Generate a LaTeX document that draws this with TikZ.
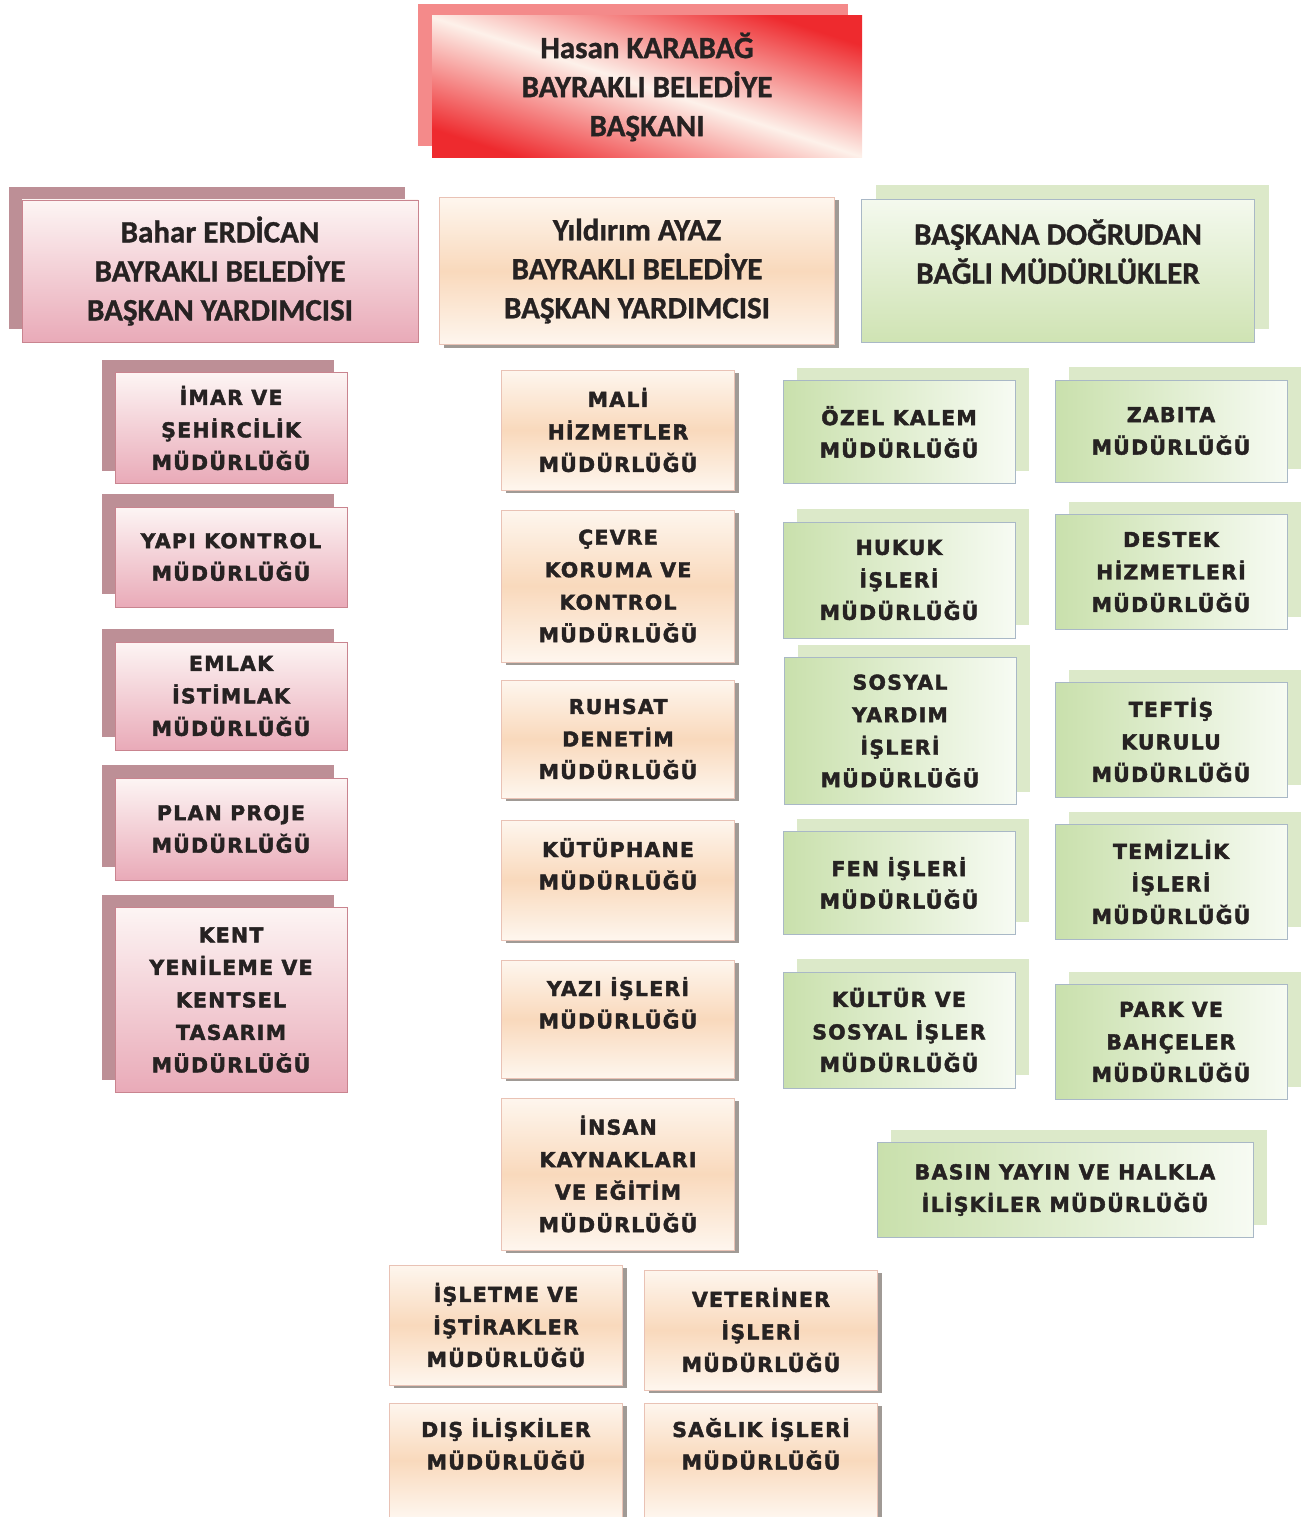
\documentclass[tikz,border=0pt]{standalone}
\usepackage{fontspec}
\setmainfont{Carlito}
\newfontfamily\headfont[BoldFeatures={FakeBold=1}]{Carlito}
\newfontfamily\unitfont[LetterSpace=6,BoldFeatures={FakeBold=2}]{DejaVu Sans}
\usetikzlibrary{shadows}
\definecolor{textgray}{HTML}{262222}
\definecolor{redmain}{HTML}{EE2A2E}
\definecolor{redlight}{HTML}{FDF1EA}
\definecolor{redback}{HTML}{F48A8A}
\definecolor{pinktop}{HTML}{FDF5F4}
\definecolor{pinkbot}{HTML}{E9AAB8}
\definecolor{pinkback}{HTML}{BD8F96}
\definecolor{pinkedge}{HTML}{C9848F}
\definecolor{peachtop}{HTML}{FEF6EE}
\definecolor{peachmid}{HTML}{F9D9BC}
\definecolor{peachedge}{HTML}{E9C2B5}
\definecolor{shadowgray}{HTML}{A09A95}
\definecolor{greentop}{HTML}{F4F9EE}
\definecolor{greenbot}{HTML}{CFE3B3}
\definecolor{greenleft}{HTML}{C9E0AC}
\definecolor{greenlight}{HTML}{F7FBF3}
\definecolor{greenback}{HTML}{DCE9C9}
\definecolor{greenedge}{HTML}{A9B8C6}
\tikzset{
  box/.style={rectangle, inner sep=0pt, align=center, text=textgray},
  head/.style={box, font=\headfont\fontsize{31}{39}\selectfont\bfseries},
  unit/.style={box, font=\unitfont\fontsize{20.5}{32.5}\selectfont\bfseries},
  redbox/.style={head, top color=redmain, bottom color=redmain, middle color=redlight, shading angle=-18,
    general shadow={shadow xshift=-14pt, shadow yshift=12pt, fill=redback}},
  pinkfill/.style={top color=pinktop, bottom color=pinkbot, draw=pinkedge, line width=0.8pt,
    general shadow={shadow xshift=-13pt, shadow yshift=13pt, fill=pinkback}},
  peachfill/.style={top color=peachtop, bottom color=peachtop, middle color=peachmid, draw=peachedge, line width=0.8pt,
    general shadow={shadow xshift=4pt, shadow yshift=-3pt, fill=shadowgray}},
  greenfill/.style={left color=greenleft, right color=greenlight, draw=greenedge, line width=1pt,
    general shadow={shadow xshift=14pt, shadow yshift=13pt, fill=greenback}},
  pinkhead/.style={head, pinkfill},
  peachhead/.style={head, peachfill},
  greenhead/.style={head, top color=greentop, bottom color=greenbot, draw=greenedge, line width=0.8pt,
    general shadow={shadow xshift=14pt, shadow yshift=14pt, fill=greenback}},
  pinkunit/.style={unit, pinkfill, minimum width=232pt},
  peachunit/.style={unit, peachfill, minimum width=233pt},
  greenunit/.style={unit, greenfill, minimum width=232pt}
}
\begin{document}
\begin{tikzpicture}[x=1pt, y=-1pt]
  \useasboundingbox (0,0) rectangle (1309,1517);
  \node[redbox, minimum width=430pt, minimum height=142pt] (baskan) at (647,87) {Hasan KARABAĞ\\BAYRAKLI BELEDİYE\\BAŞKANI};
  \node[pinkhead, minimum width=396pt, minimum height=142pt] (erdican) at (220,271) {Bahar ERDİCAN\\BAYRAKLI BELEDİYE\\BAŞKAN YARDIMCISI};
  \node[peachhead, minimum width=395pt, minimum height=147pt] (ayaz) at (637,271) {Yıldırım AYAZ\\BAYRAKLI BELEDİYE\\BAŞKAN YARDIMCISI};
  \node[greenhead, minimum width=393pt, minimum height=143pt] (dogrudan) at (1058,271) {BAŞKANA DOĞRUDAN\\BAĞLI MÜDÜRLÜKLER\\\mbox{}};

  \node[pinkunit, minimum height=111pt] (imar) at (231,428) {İMAR VE\\ŞEHİRCİLİK\\MÜDÜRLÜĞÜ};
  \node[pinkunit, minimum height=100pt] (yapi) at (231,557) {YAPI KONTROL\\MÜDÜRLÜĞÜ};
  \node[pinkunit, minimum height=108pt] (emlak) at (231,696) {EMLAK\\İSTİMLAK\\MÜDÜRLÜĞÜ};
  \node[pinkunit, minimum height=102pt] (plan) at (231,829) {PLAN PROJE\\MÜDÜRLÜĞÜ};
  \node[pinkunit, minimum height=185pt] (kent) at (231,1000) {KENT\\YENİLEME VE\\KENTSEL\\TASARIM\\MÜDÜRLÜĞÜ};

  \node[peachunit, minimum height=120pt] (mali) at (618,430) {MALİ\\HİZMETLER\\MÜDÜRLÜĞÜ};
  \node[peachunit, minimum height=152pt] (cevre) at (618,586) {ÇEVRE\\KORUMA VE\\KONTROL\\MÜDÜRLÜĞÜ};
  \node[peachunit, minimum height=118pt] (ruhsat) at (618,739) {RUHSAT\\DENETİM\\MÜDÜRLÜĞÜ};
  \node[peachunit, minimum height=120pt] (kutuphane) at (618,880) {KÜTÜPHANE\\MÜDÜRLÜĞÜ\\\mbox{}};
  \node[peachunit, minimum height=118pt] (yazi) at (618,1019) {YAZI İŞLERİ\\MÜDÜRLÜĞÜ\\\mbox{}};
  \node[peachunit, minimum height=152pt] (insan) at (618,1174) {İNSAN\\KAYNAKLARI\\VE EĞİTİM\\MÜDÜRLÜĞÜ};
  \node[peachunit, minimum height=120pt] (isletme) at (506,1325) {İŞLETME VE\\İŞTİRAKLER\\MÜDÜRLÜĞÜ};
  \node[peachunit, minimum height=120pt] (veteriner) at (761,1330) {VETERİNER\\İŞLERİ\\MÜDÜRLÜĞÜ};
  \node[peachunit, minimum height=114pt] (dis) at (506,1460) {DIŞ İLİŞKİLER\\MÜDÜRLÜĞÜ\\\mbox{}};
  \node[peachunit, minimum height=114pt] (saglik) at (761,1460) {SAĞLIK İŞLERİ\\MÜDÜRLÜĞÜ\\\mbox{}};

  \node[greenunit, minimum height=103pt] (ozel) at (899,432) {ÖZEL KALEM\\MÜDÜRLÜĞÜ};
  \node[greenunit, minimum height=102pt] (zabita) at (1171,431) {ZABITA\\MÜDÜRLÜĞÜ};
  \node[greenunit, minimum height=116pt] (hukuk) at (899,580) {HUKUK\\İŞLERİ\\MÜDÜRLÜĞÜ};
  \node[greenunit, minimum height=115pt] (destek) at (1171,572) {DESTEK\\HİZMETLERİ\\MÜDÜRLÜĞÜ};
  \node[greenunit, minimum height=147pt] (sosyal) at (900,731) {SOSYAL\\YARDIM\\İŞLERİ\\MÜDÜRLÜĞÜ};
  \node[greenunit, minimum height=115pt] (teftis) at (1171,740) {TEFTİŞ\\KURULU\\MÜDÜRLÜĞÜ};
  \node[greenunit, minimum height=103pt] (fen) at (899,883) {FEN İŞLERİ\\MÜDÜRLÜĞÜ};
  \node[greenunit, minimum height=115pt] (temizlik) at (1171,882) {TEMİZLİK\\İŞLERİ\\MÜDÜRLÜĞÜ};
  \node[greenunit, minimum height=116pt] (kultur) at (899,1030) {KÜLTÜR VE\\SOSYAL İŞLER\\MÜDÜRLÜĞÜ};
  \node[greenunit, minimum height=115pt] (park) at (1171,1042) {PARK VE\\BAHÇELER\\MÜDÜRLÜĞÜ};
  \node[greenunit, minimum width=376pt, minimum height=95pt] (basin) at (1065,1190) {BASIN YAYIN VE HALKLA\\İLİŞKİLER MÜDÜRLÜĞÜ};
\end{tikzpicture}
\end{document}
